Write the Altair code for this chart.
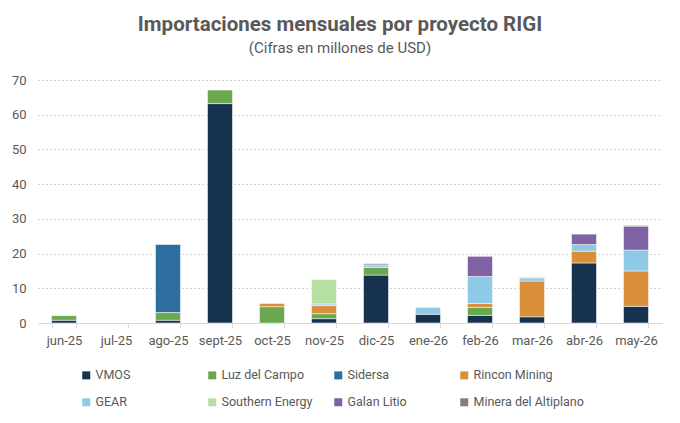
import altair as alt
import pandas as pd

months = ["jun-25", "jul-25", "ago-25", "sept-25", "oct-25", "nov-25",
          "dic-25", "ene-26", "feb-26", "mar-26", "abr-26", "may-26"]

series_names = ["VMOS", "Luz del Campo", "Sidersa", "Rincon Mining",
                "GEAR", "Southern Energy", "Galan Litio", "Minera del Altiplano"]
series_colors = ["#17324f", "#6aa84f", "#2e6e9e", "#d98e3a",
                 "#8ecae6", "#b6e0a2", "#7e62a3", "#7f7f7f"]

vmos =     [0.8, 0, 0.8, 63.2, 0, 1.25, 13.8, 2.5, 2.2, 1.8, 17.3, 4.8]
luz =      [1.3, 0, 2.2, 3.9, 4.7, 1.45, 2.2, 0, 2.3, 0, 0, 0]
sidersa =  [0, 0, 19.6, 0, 0, 0, 0, 0, 0, 0, 0, 0]
rincon =   [0, 0, 0, 0, 0.9, 2.3, 0, 0, 1.1, 10.3, 3.4, 10.2]
gear =     [0, 0, 0, 0, 0, 0.5, 0.6, 2.0, 7.8, 0.8, 1.9, 6.0]
southern = [0, 0, 0, 0, 0, 7.0, 0, 0, 0, 0, 0, 0]
galan =    [0, 0, 0, 0, 0, 0, 0.4, 0, 5.8, 0, 3.0, 6.9]
minera =   [0, 0, 0, 0, 0, 0, 0.1, 0, 0, 0.2, 0, 0.2]

all_series = [vmos, luz, sidersa, rincon, gear, southern, galan, minera]

rows = []
for i, (name, vals) in enumerate(zip(series_names, all_series)):
    for m, v in zip(months, vals):
        if v > 0:
            rows.append({"mes": m, "proyecto": name, "valor": v, "orden": i})
df = pd.DataFrame(rows)

FONT = "Roboto"
GREY = "#595959"

chart = alt.Chart(df).mark_bar(stroke="white", strokeWidth=0.5).encode(
    x=alt.X("mes:N", sort=months,
            scale=alt.Scale(domain=months, paddingInner=0.52, paddingOuter=0.26),
            axis=alt.Axis(title=None, labelAngle=0, labelFontSize=13, labelColor=GREY,
                          labelFont=FONT, domainColor="#d9d9d9", tickColor="#d9d9d9",
                          tickSize=5, tickBand="extent", labelPadding=6, grid=False)),
    y=alt.Y("valor:Q", stack="zero",
            scale=alt.Scale(domain=[0, 70], nice=False),
            axis=alt.Axis(title=None, values=[0, 10, 20, 30, 40, 50, 60, 70],
                          labelFontSize=13, labelColor=GREY, labelFont=FONT,
                          domain=False, ticks=False, labelPadding=12,
                          grid=True, gridColor="#c8c8c8", gridDash=[1.5, 2.5])),
    color=alt.Color("proyecto:N",
                    scale=alt.Scale(domain=series_names, range=series_colors),
                    legend=alt.Legend(title=None, orient="none", legendX=42, legendY=289,
                                      direction="horizontal",
                                      columns=4, gridAlign="all", columnPadding=-2,
                                      rowPadding=14, symbolType="square", symbolSize=64,
                                      symbolStrokeWidth=0, labelOffset=3,
                                      labelFontSize=12.5, labelColor=GREY, labelFont=FONT,
                                      padding=0)),
    order=alt.Order("orden:Q", sort="ascending"),
).properties(
    width=624,
    height=243,
    padding={"left": 30, "top": 72, "right": 10, "bottom": 92},
    autosize=alt.AutoSizeParams(type="none"),
    title=alt.TitleParams(
        text="Importaciones mensuales por proyecto RIGI",
        subtitle="(Cifras en millones de USD)",
        anchor="middle", frame="group", dx=-10, offset=18,
        font=FONT, fontSize=20.5, fontWeight="bold", color=GREY,
        subtitleFont=FONT, subtitleFontSize=15, subtitleColor=GREY,
        subtitlePadding=6,
    ),
).configure_view(stroke=None)

chart.save("out.html", embed_options={"renderer": "svg", "actions": False})
